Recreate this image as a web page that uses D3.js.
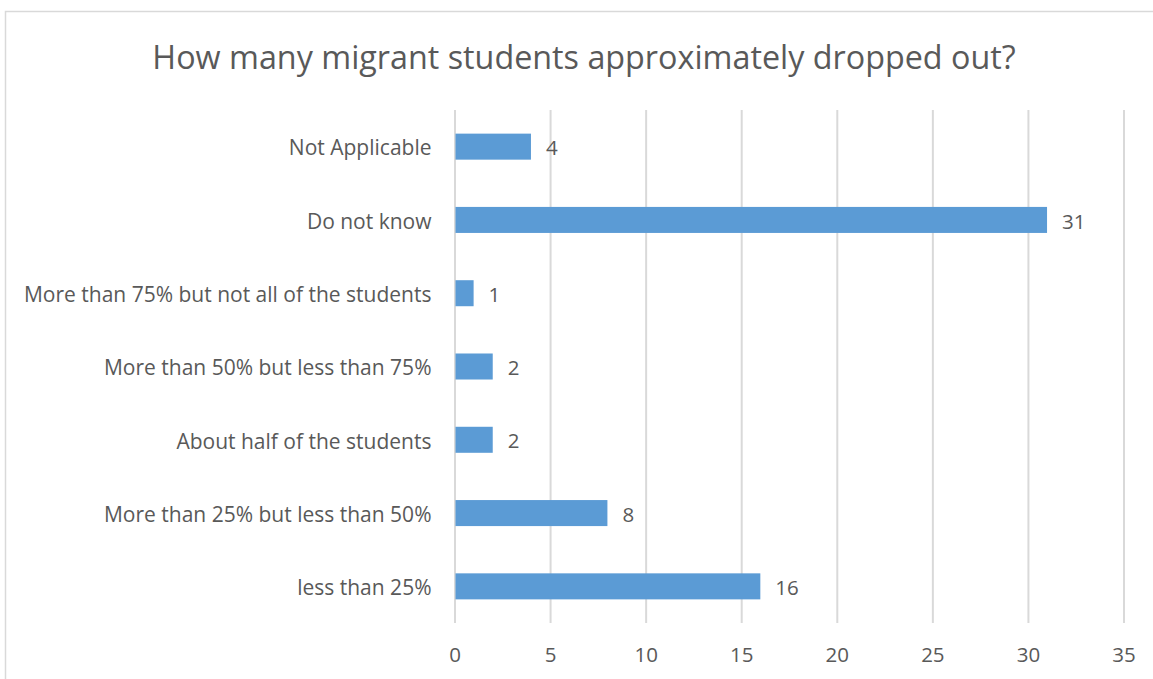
<!DOCTYPE html>
<html><head><meta charset="utf-8">
<script src="https://cdn.jsdelivr.net/npm/d3@7"></script>
<style>body{margin:0;background:#fff}svg{display:block}</style>
</head><body>
<script>
const categories = ["Not Applicable","Do not know","More than 75% but not all of the students","More than 50% but less than 75%","About half of the students","More than 25% but less than 50%","less than 25%"];
const values = [4,31,1,2,2,8,16];
const xTicks = [0,5,10,15,20,25,30,35];
const title = "How many migrant students approximately dropped out?";

const W=1153,H=679;
const svg=d3.select("body").append("svg").attr("width",W).attr("height",H);
svg.append("rect").attr("x",5.5).attr("y",11.5).attr("width",1160).attr("height",700).attr("fill","#fff").attr("stroke","#d9d9d9").attr("stroke-width",1.5);
const font="'Open Sans', sans-serif", col="#595959";
const x=d3.scaleLinear().domain([0,35]).range([454.5,1123.5]);
const y=d3.scaleBand().domain(categories).range([110,623]).paddingInner(0.645).paddingOuter(0.3225);

svg.append("text").attr("x",584).attr("y",69).attr("text-anchor","middle").attr("font-family",font).attr("font-size",32.3).attr("fill",col).text(title);

const gx=svg.append("g").attr("transform","translate(0,623)").call(d3.axisBottom(x).tickValues(xTicks).tickSize(-513).tickPadding(24));
gx.select(".domain").remove();
gx.selectAll(".tick line").attr("stroke","#d9d9d9").attr("stroke-width",2);
gx.selectAll(".tick text").attr("font-family",font).attr("font-size",20.5).attr("fill",col);

const gy=svg.append("g").attr("transform","translate(454.5,0)").call(d3.axisLeft(y).tickSize(0).tickPadding(23));
gy.select(".domain").remove();
gy.selectAll(".tick text").attr("font-family",font).attr("font-size",21).attr("fill",col).attr("dy","0.42em");

svg.selectAll("rect.bar").data(values).enter().append("rect").attr("class","bar")
 .attr("x",x(0)+1).attr("y",(d,i)=>y(categories[i])).attr("height",y.bandwidth())
 .attr("width",d=>x(d)-x(0)-1).attr("fill","#5b9bd5");
svg.selectAll("text.val").data(values).enter().append("text").attr("class","val")
 .attr("x",d=>x(d)+15).attr("y",(d,i)=>y(categories[i])+y.bandwidth()/2).attr("dy","0.42em")
 .attr("font-family",font).attr("font-size",20.5).attr("fill",col).text(d=>d);
</script>
</body></html>
